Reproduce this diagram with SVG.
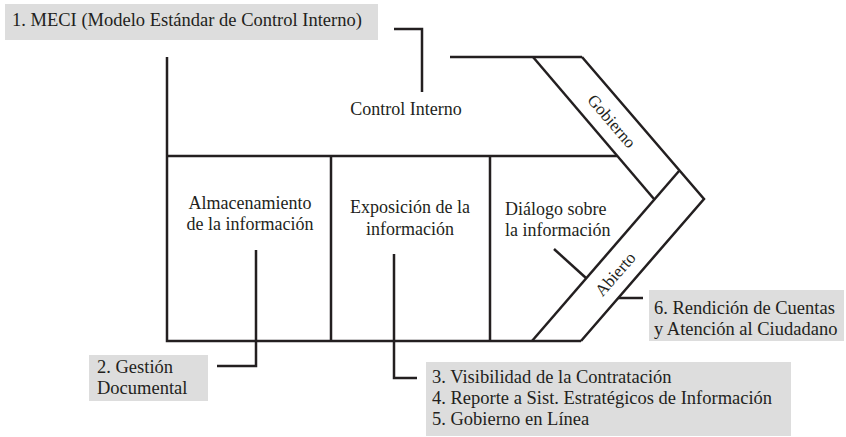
<svg xmlns="http://www.w3.org/2000/svg" width="846" height="437" viewBox="0 0 846 437">
  <style>
    .ln { fill: none; stroke: #231f20; stroke-width: 2.5; stroke-linecap: butt; stroke-linejoin: miter; }
    .box { fill: #dddddd; stroke: none; }
    text { font-family: 'Liberation Serif', 'DejaVu Serif', serif; fill: #231f20; }
    .lbl { font-size: 18.5px; }
    .in { font-size: 18px; }
    .band { font-size: 17px; }
    .mid { text-anchor: middle; }
  </style>
  <rect width="846" height="437" fill="#ffffff"/>

  <g id="fishbone">
    <path class="ln" d="M167,57 V341 H581"/>
    <path class="ln" d="M167,156 H617"/>
    <path class="ln" d="M331,156 V341 M490,156 V341"/>
    <path class="ln" d="M450,57 H582"/>
    <path class="ln" d="M533,57 L654,199"/>
    <path class="ln" d="M582,57 L704,199 L581,341"/>
    <path class="ln" d="M679,171 L532,341"/>
  </g>

  <g id="control-interno" font-family="Liberation Serif, serif">
    <text class="in mid" x="406" y="115">Control Interno</text>
  </g>
  <g id="almacenamiento">
    <text class="in mid" x="250" y="209">Almacenamiento</text>
    <text class="in mid" x="250" y="230">de la información</text>
  </g>
  <g id="exposicion">
    <text class="in mid" x="410" y="213">Exposición de la</text>
    <text class="in mid" x="410" y="235">información</text>
  </g>
  <g id="dialogo">
    <text class="in" x="505" y="215">Diálogo sobre</text>
    <text class="in" x="505" y="236">la información</text>
  </g>
  <g id="gobierno">
    <text class="band mid" transform="translate(612,121) rotate(49.5)" y="6">Gobierno</text>
  </g>
  <g id="abierto">
    <text class="band mid" transform="translate(615,274) rotate(-49)" y="6">Abierto</text>
  </g>

  <g id="meci">
    <rect class="box" x="5" y="4" width="373" height="36"/>
    <text class="lbl" x="12" y="26">1. MECI (Modelo Estándar de Control Interno)</text>
  </g>
  <g id="gestion-documental">
    <rect class="box" x="89" y="355" width="119" height="46"/>
    <text class="lbl" x="97" y="373">2. Gestión</text>
    <text class="lbl" x="97" y="394">Documental</text>
  </g>
  <g id="visibilidad">
    <rect class="box" x="426" y="362" width="365" height="74"/>
    <text class="lbl" x="432" y="383">3. Visibilidad de la Contratación</text>
    <text class="lbl" x="432" y="404">4. Reporte a Sist. Estratégicos de Información</text>
    <text class="lbl" x="432" y="425">5. Gobierno en Línea</text>
  </g>
  <g id="rendicion">
    <rect class="box" x="649" y="290" width="195" height="51"/>
    <text class="lbl" x="654" y="314">6. Rendición de Cuentas</text>
    <text class="lbl" x="654" y="335">y Atención al Ciudadano</text>
  </g>

  <g id="connectors">
    <path class="ln" d="M394,29 H422 V92"/>
    <path class="ln" d="M256,250 V366 H217"/>
    <path class="ln" d="M394,254 V378 H417"/>
    <path class="ln" d="M554,249 L586,278"/>
    <path class="ln" d="M618,298 H643"/>
  </g>
</svg>
